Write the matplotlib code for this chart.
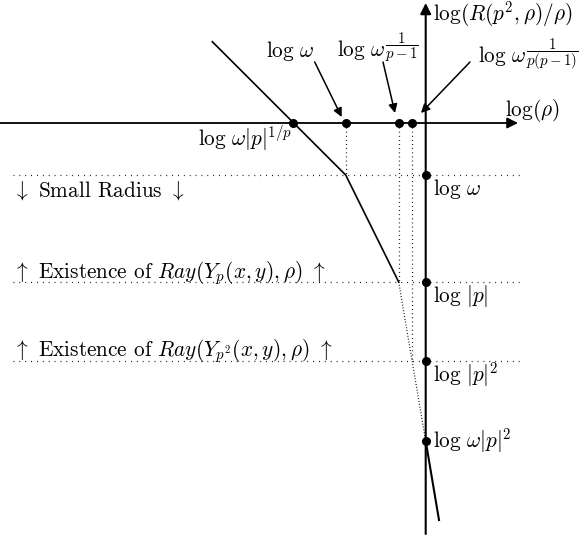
import matplotlib
matplotlib.use("Agg")
import matplotlib.pyplot as plt

plt.rcParams['font.family'] = 'serif'
plt.rcParams['font.serif'] = ['cmr10']
plt.rcParams['mathtext.fontset'] = 'cm'
plt.rcParams['axes.formatter.use_mathtext'] = True

# ---- data (diagram coordinates: origin at axis crossing) ----
x_marks = [-133, -80, -27, -14]
x_mark_labels = [r"$\log\,\omega|p|^{1/p}$", r"$\log\,\omega$",
                 r"$\log\,\omega^{\dfrac{1}{p-1}}$", r"$\log\,\omega^{\dfrac{1}{p(p-1)}}$"]
y_marks = [-52, -159, -238, -318]
y_mark_labels = [r"$\log\,\omega$", r"$\log\,|p|$", r"$\log\,|p|^2$", r"$\log\,\omega|p|^2$"]

solid_x = [-213.4, -80, -27]
solid_y = [81.3, -52, -159]
dotted_x = [-27, 0]
dotted_y = [-159, -318]
tail_x = [0, 13.3]
tail_y = [-318, -397]

region_labels = [r"$\downarrow$ Small Radius $\downarrow$",
                 r"$\uparrow$ Existence of $Ray(Y_p(x,y),\rho)$ $\uparrow$",
                 r"$\uparrow$ Existence of $Ray(Y_{p^2}(x,y),\rho)$ $\uparrow$"]
region_baselines = [-74, -155, -233]

fig = plt.figure(figsize=(5.87, 5.37), dpi=100)
ax = fig.add_axes([0, 0, 1, 1])
ax.set_xlim(-425.7, 161.3)
ax.set_ylim(-414, 123)
ax.axis('off')

FS = 15.3

# axes with arrows
ax.annotate('', xy=(92.3, 0), xytext=(-425.7, 0),
            arrowprops=dict(arrowstyle='-|>', lw=1.3, color='k', mutation_scale=16,
                            shrinkA=0, shrinkB=0))
ax.annotate('', xy=(0, 120), xytext=(0, -411),
            arrowprops=dict(arrowstyle='-|>', lw=1.5, color='k', mutation_scale=16,
                            shrinkA=0, shrinkB=0))
ax.text(79.3, 13, r"$\log(\rho)$", fontsize=FS, ha='left', va='center')
ax.text(7.3, 109, r"$\log(R(p^2,\rho)/\rho)$", fontsize=FS, ha='left', va='center')

# horizontal dotted guide lines
for y in y_marks[:3]:
    ax.plot([-412.7, 94], [y, y], color='k', lw=0.9, linestyle=(0, (0.7, 4.0)))

# vertical dotted guide lines
for xm, yb in zip(x_marks[1:], y_marks[:3]):
    ax.plot([xm, xm], [0, yb], color='k', lw=0.9, linestyle=(0, (0.7, 2.6)))

# polyline
ax.plot(solid_x, solid_y, color='k', lw=1.2)
ax.plot(dotted_x, dotted_y, color='k', lw=0.9, linestyle=(0, (0.7, 1.6)))
ax.plot(tail_x, tail_y, color='k', lw=1.5)

# marks
ax.plot(x_marks, [0] * len(x_marks), 'o', color='k', markersize=5.5)
ax.plot([0] * len(y_marks), y_marks, 'o', color='k', markersize=5.5)

# x mark labels
ax.text(-133, -15, x_mark_labels[0], fontsize=FS, ha='right', va='center')
ax.text(-136, 66, x_mark_labels[1], fontsize=FS, ha='center', va='baseline')
ax.text(-47.7, 66, x_mark_labels[2], fontsize=FS, ha='center', va='baseline')
ax.text(52.3, 60, x_mark_labels[3], fontsize=FS, ha='left', va='baseline')

arrow_kw = dict(arrowstyle='-|>', lw=1.1, color='k', mutation_scale=13, shrinkA=0, shrinkB=0)
ax.annotate('', xy=(-84, 6), xytext=(-111, 61), arrowprops=arrow_kw)
ax.annotate('', xy=(-30.7, 10), xytext=(-42.7, 61), arrowprops=arrow_kw)
ax.annotate('', xy=(-4.7, 10), xytext=(44.3, 61), arrowprops=arrow_kw)

# y mark labels
for y, lab in zip(y_marks[:3], y_mark_labels[:3]):
    ax.text(7, y - 14, lab, fontsize=FS, ha='left', va='center')
ax.text(7, y_marks[3], y_mark_labels[3], fontsize=FS, ha='left', va='center')

# region labels
for yb, lab in zip(region_baselines, region_labels):
    ax.text(-412.7, yb, lab, fontsize=FS, ha='left', va='baseline')

fig.savefig('out.png', dpi=100)
